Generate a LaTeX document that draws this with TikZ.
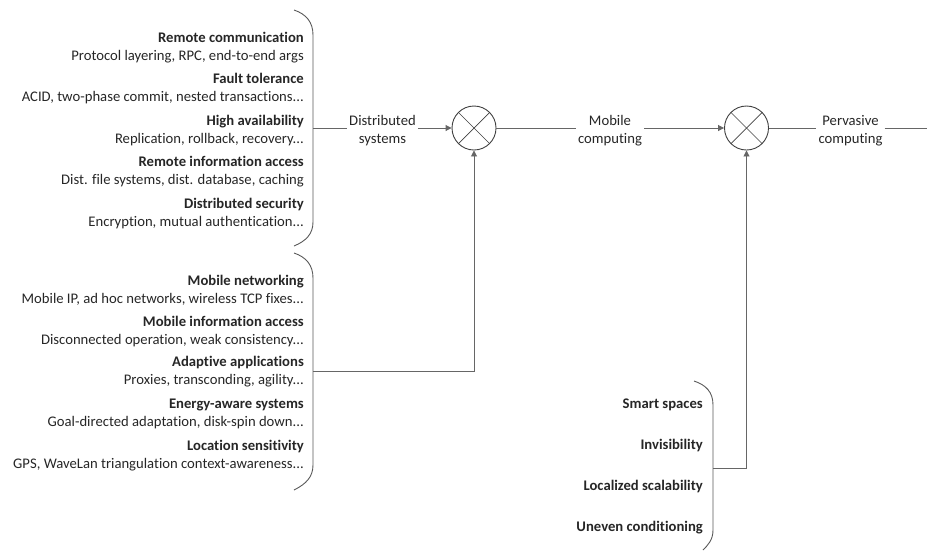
\documentclass[tikz,border=0pt]{standalone}
\usepackage{fontspec}
\setmainfont{Carlito}[Ligatures=NoCommon]
\usetikzlibrary{arrows.meta}
\begin{document}
\begin{tikzpicture}[x=1pt,y=-1pt,
  txt/.style={font=\fontsize{14.67}{18}\selectfont, inner sep=0pt, anchor=base east, text=black!85},
  ttl/.style={txt, font=\fontsize{14.67}{18}\selectfont\bfseries},
  brace/.style={draw=black!65, line width=0.9pt},
  wire/.style={draw=black!60, line width=0.9pt},
  arr/.style={wire, -{Triangle[length=6pt,width=6pt]}},
  mixer/.style={circle, draw=black!75, line width=0.9pt, minimum size=44pt, inner sep=0pt},
  lbl/.style={font=\fontsize{14.67}{18}\selectfont, align=center, inner xsep=2pt, inner ysep=0pt, text=black!85}]
\useasboundingbox (0,0) rectangle (927,550);

% distributed systems topics
\node[ttl] (rc)  at (304,42)  {Remote communication};
\node[txt] (rcd) at (304,60)  {Protocol layering, RPC, end-to-end args};
\node[ttl] (ft)  at (304,83)  {Fault tolerance};
\node[txt] (ftd) at (304,101) {ACID, two-phase commit, nested transactions...};
\node[ttl] (ha)  at (304,125) {High availability};
\node[txt] (had) at (304,143) {Replication, rollback, recovery...};
\node[ttl] (ria) at (304,166) {Remote information access};
\node[txt] (riad) at (304,184) {Dist. file systems, dist. database, caching};
\node[ttl] (dsec) at (304,208) {Distributed security};
\node[txt] (dsecd) at (304,226) {Encryption, mutual authentication...};

% mobile computing topics
\node[ttl] (mn)  at (304,285) {Mobile networking};
\node[txt] (mnd) at (304,303) {Mobile IP, ad hoc networks, wireless TCP fixes...};
\node[ttl] (mia) at (304,326) {Mobile information access};
\node[txt] (miad) at (304,344) {Disconnected operation, weak consistency...};
\node[ttl] (aa)  at (304,366) {Adaptive applications};
\node[txt] (aad) at (304,384) {Proxies, transconding, agility...};
\node[ttl] (eas) at (304,408) {Energy-aware systems};
\node[txt] (easd) at (304,426) {Goal-directed adaptation, disk-spin down...};
\node[ttl] (ls)  at (304,450) {Location sensitivity};
\node[txt] (lsd) at (304,468) {GPS, WaveLan triangulation context-awareness...};

% pervasive computing topics
\node[ttl] (ss)  at (703,408) {Smart spaces};
\node[ttl] (inv) at (703,449) {Invisibility};
\node[ttl] (lsc) at (703,490) {Localized scalability};
\node[ttl] (uc)  at (703,531) {Uneven conditioning};

% braces
\draw[brace] (294,10) .. controls (306,14) and (313,22) .. (313,35) -- (313,222)
  .. controls (313,234) and (306,241) .. (294,246);
\draw[brace] (294,253) .. controls (306,257) and (313,265) .. (313,278) -- (313,465)
  .. controls (313,477) and (306,484) .. (294,490);
\draw[brace] (694,381) .. controls (706,385) and (713,392) .. (713,405) -- (713,530)
  .. controls (713,540) and (708,545) .. (703,550);

\coordinate (b1) at (313,128);
\coordinate (b2) at (313,371);
\coordinate (b3) at (713,468);
\coordinate (out) at (927,128);

% mixers
\node[mixer] (c1) at (474,128) {};
\node[mixer] (c2) at (746.5,128) {};
\foreach \c in {c1,c2}{
  \draw[black!75, line width=0.7pt] (\c.north west) -- (\c.south east);
  \draw[black!75, line width=0.7pt] (\c.north east) -- (\c.south west);
}

% stage labels, set slightly below the signal line
\node[lbl] (ds) at (382.5,131) {Distributed\\systems};
\node[lbl] (mc) at (610,131) {Mobile\\computing};
\node[lbl] (pc) at (850.5,131) {Pervasive\\computing};

% connectors
\draw[wire] (b1) -- (b1 -| ds.west);
\draw[arr] (ds.east |- c1) -- (c1.west);
\draw[wire] (c1.east) -- (c1 -| mc.west);
\draw[arr] (mc.east |- c2) -- (c2.west);
\draw[wire] (c2.east) -- (c2 -| pc.west);
\draw[wire] (pc.east |- out) -- (out);
\draw[arr] (b2) -| (c1.south);
\draw[arr] (b3) -| (c2.south);
\end{tikzpicture}
\end{document}
